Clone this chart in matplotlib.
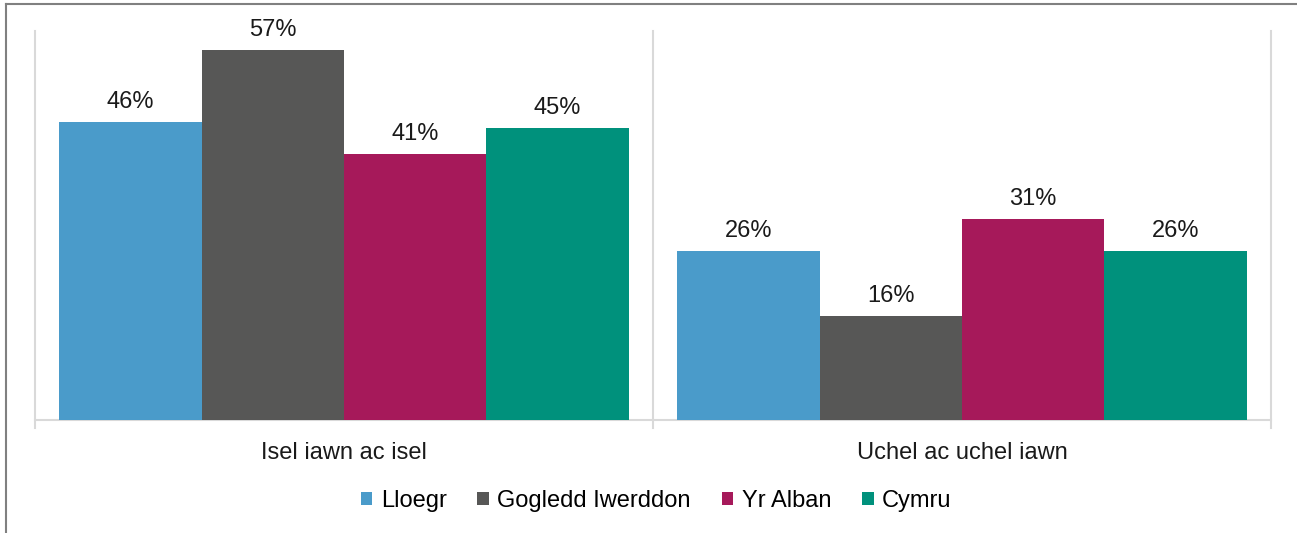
import numpy as np
import matplotlib
matplotlib.use("Agg")
import matplotlib.pyplot as plt
from matplotlib.lines import Line2D
from matplotlib.patches import Patch

plt.rcParams['font.family'] = ['Liberation Sans', 'DejaVu Sans']

# Data
categories = ['Isel iawn ac isel', 'Uchel ac uchel iawn']
series = ['Lloegr', 'Gogledd Iwerddon', 'Yr Alban', 'Cymru']
lloegr = [46, 26]
gogledd_iwerddon = [57, 16]
yr_alban = [41, 31]
cymru = [45, 26]
values = [lloegr, gogledd_iwerddon, yr_alban, cymru]
colors = ['#4A9BCA', '#575756', '#A6195A', '#00917C']

fig = plt.figure(figsize=(12.97, 5.33), dpi=100)
ax = fig.add_axes([35 / 1297, 1 - 420 / 533, 1236 / 1297, 389 / 533])

x = np.arange(len(categories))
group_w = 0.922
bar_w = group_w / len(series)
for i, (name, vals, c) in enumerate(zip(series, values, colors)):
    pos = x - group_w / 2 + bar_w * (i + 0.5)
    bars = ax.bar(pos, vals, width=bar_w, color=c, label=name, zorder=3)
    for b, v in zip(bars, vals):
        ax.text(b.get_x() + b.get_width() / 2, v + 1.4, f'{v}%',
                ha='center', va='bottom', fontsize=17, color='#1a1a1a')

ax.set_xlim(-0.5, len(categories) - 0.5)
ax.set_ylim(0, 60)
ax.set_yticks([])
ax.set_xticks(x)
ax.set_xticklabels(categories, fontsize=17, color='#1a1a1a')
ax.tick_params(axis='x', length=0, pad=16)

# vertical dividers between categories (and axis edges)
grid_col = '#D9D9D9'
for xv in [-0.5, 0.5, 1.5]:
    ax.plot([xv, xv], [-0.02, 1], transform=ax.get_xaxis_transform(),
            color=grid_col, lw=1.5, clip_on=False, zorder=1)
for s in ['top', 'right', 'left']:
    ax.spines[s].set_visible(False)
ax.spines['bottom'].set_color(grid_col)
ax.spines['bottom'].set_linewidth(1.5)

handles = [Patch(facecolor=c, edgecolor='none') for c in colors]
fig.legend(handles, series, loc='center', bbox_to_anchor=(656 / 1297, 1 - 501 / 533),
           ncol=4, frameon=False, fontsize=17, handlelength=0.5, handleheight=0.5,
           handletextpad=0.35, columnspacing=1.3)

# outer frame (top and left edges visible)
fig.add_artist(Line2D([6 / 1297, 1], [1 - 4 / 533, 1 - 4 / 533], color='#808080', lw=1.5))
fig.add_artist(Line2D([6 / 1297, 6 / 1297], [0, 1 - 4 / 533], color='#808080', lw=1.5))

fig.savefig('out.png', dpi=100, facecolor='white')
